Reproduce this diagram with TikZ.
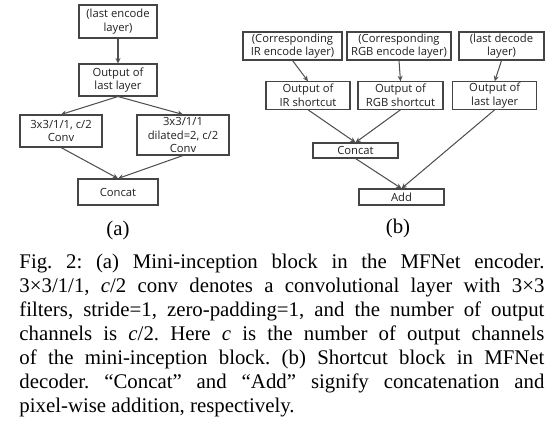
\documentclass[tikz,border=0pt]{standalone}
\usepackage{fontspec}
\setmainfont{Liberation Serif}
\newfontfamily\boxfont{Open Sans}
\usetikzlibrary{arrows.meta}
\newcommand\pxu{0.48pt}
\definecolor{boxline}{HTML}{454545}
\definecolor{arrowline}{HTML}{505050}
\definecolor{boxtext}{HTML}{202020}
\begin{document}
\begin{tikzpicture}[x=0.48pt,y=-0.48pt,
  blk/.style={draw=boxline, line width=0.5pt, inner sep=0pt, align=center,
    text=boxtext, font=\boxfont\fontsize{5.4}{6.6}\selectfont},
  conn/.style={draw=arrowline, line width=0.5pt, -{Stealth[length=2.6pt,width=2.4pt]}},
  sublabel/.style={font=\fontsize{10}{12}\selectfont, inner sep=0pt}]
\useasboundingbox (0,0) rectangle (554,434);
% (a)
\node[blk, minimum width=78*\pxu, minimum height=33*\pxu] (a1) at (118,21.5) {(last encode\\layer)};
\node[blk, minimum width=78*\pxu, minimum height=32*\pxu] (a2) at (118,80) {Output of\\last layer};
\node[blk, minimum width=82*\pxu, minimum height=32*\pxu] (a3) at (61,131) {3x3/1/1, c/2\\Conv};
\node[blk, minimum width=92*\pxu, minimum height=40*\pxu] (a4) at (183,135) {3x3/1/1\\dilated=2, c/2\\Conv};
\node[blk, minimum width=80*\pxu, minimum height=26*\pxu] (a5) at (118,192) {Concat};
\draw[conn] (a1.south) -- (a2.north);
\draw[conn] (a2.south) -- (a3.north);
\draw[conn] (a2.south) -- (a4.north);
\draw[conn] (a3.south) -- (a5.north);
\draw[conn] (a4.south) -- (a5.north);
\node[sublabel] (la) at (118,230) {(a)};
% (b)
\node[blk, minimum width=99*\pxu, minimum height=28*\pxu] (b1) at (292.5,46) {(Corresponding\\IR encode layer)};
\node[blk, minimum width=104*\pxu, minimum height=28*\pxu] (b2) at (399,46) {(Corresponding\\RGB encode layer)};
\node[blk, minimum width=85*\pxu, minimum height=28*\pxu] (b3) at (501.5,46) {(last decode\\layer)};
\node[blk, minimum width=84*\pxu, minimum height=27.5*\pxu] (b4) at (308,95.5) {Output of\\IR shortcut};
\node[blk, minimum width=85*\pxu, minimum height=27.5*\pxu] (b5) at (400.5,95.5) {Output of\\RGB shortcut};
\node[blk, minimum width=84*\pxu, minimum height=27.5*\pxu] (b6) at (494.7,95.5) {Output of\\last layer};
\node[blk, minimum width=85*\pxu, minimum height=15*\pxu] (b7) at (355.5,150.5) {Concat};
\node[blk, minimum width=85*\pxu, minimum height=16*\pxu] (b8) at (401.5,197) {Add};
\draw[conn] (b1.south) -- (b4.north);
\draw[conn] (b2.south) -- (b5.north);
\draw[conn] (b3.south) -- (b6.north);
\draw[conn] (b4.south) -- (b7.north);
\draw[conn] (b5.south) -- (b7.north);
\draw[conn] (b7.south) -- (b8.north);
\draw[conn] (b6.south) -- (b8.north);
\node[sublabel] (lb) at (398,228) {(b)};
% caption
\node[anchor=base west, inner sep=0pt, text width=252pt, align=justify,
  font=\fontsize{10}{11.52}\selectfont] (cap) at (19,268)
{\frenchspacing\hyphenpenalty=10000 Fig. 2: (a) Mini-inception block in the MFNet encoder.\linebreak
3×3/1/1, \textit{c}/2 conv denotes a convolutional layer with 3×3\linebreak
filters, stride=1, zero-padding=1, and the number of output\linebreak
channels is \textit{c}/2. Here \textit{c} is the number of output channels\linebreak
of the mini-inception block. (b) Shortcut block in MFNet\linebreak
decoder. ``Concat'' and ``Add'' signify concatenation and\linebreak
pixel-wise addition, respectively.};
\end{tikzpicture}
\end{document}
